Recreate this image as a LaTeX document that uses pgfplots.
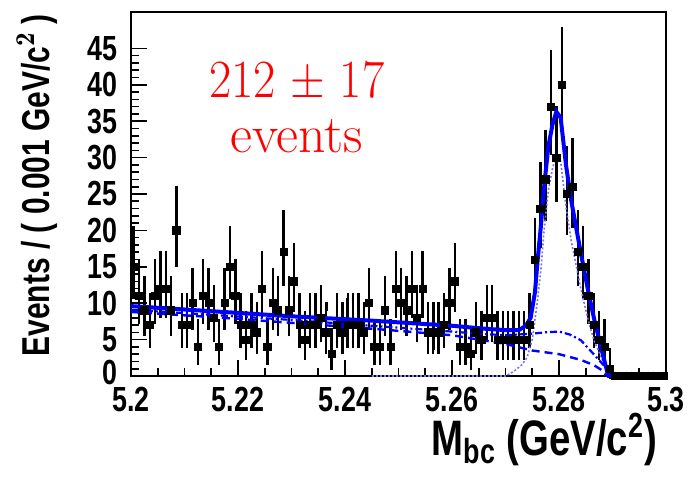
\documentclass[border=0pt]{standalone}
\usepackage{fontspec}
\usepackage{graphicx}
\usepackage{pgfplots}
\usepackage{pgfplotstable}
\pgfplotsset{compat=1.18}
\newfontfamily\hb{Liberation Sans}[FakeStretch=0.77]
\definecolor{fitblue}{RGB}{0,0,255}

\pgfplotstableread{
x y ep em
5.2005 15 4.95 3.82
5.2015 11 4.41 3.26
5.2025 9 4.11 2.94
5.2035 7 3.77 2.58
5.2045 11 4.41 3.26
5.2055 12 4.55 3.41
5.2065 12 4.55 3.41
5.2075 9 4.11 2.94
5.2085 20 5.53 4.42
5.2095 7 3.77 2.58
5.2105 7 3.77 2.58
5.2115 10 4.26 3.11
5.2125 4 3.16 1.91
5.2135 11 4.41 3.26
5.2145 10 4.26 3.11
5.2155 8 3.95 2.77
5.2165 4 3.16 1.91
5.2175 10 4.26 3.11
5.2185 15 4.95 3.82
5.2195 11 4.41 3.26
5.2205 7 3.77 2.58
5.2215 5 3.38 2.16
5.2225 7 3.77 2.58
5.2235 6 3.58 2.38
5.2245 12 4.55 3.41
5.2255 4 3.16 1.91
5.2265 10 4.26 3.11
5.2275 9 4.11 2.94
5.2285 17 5.20 4.07
5.2295 9 4.11 2.94
5.2305 13 4.69 3.55
5.2315 7 3.77 2.58
5.2325 5 3.38 2.16
5.2335 7 3.77 2.58
5.2345 7 3.77 2.58
5.2355 8 3.95 2.77
5.2365 6 3.58 2.38
5.2375 3 2.92 1.63
5.2385 7 3.77 2.58
5.2395 6 3.58 2.38
5.2405 7 3.77 2.58
5.2415 7 3.77 2.58
5.2425 7 3.77 2.58
5.2435 6 3.58 2.38
5.2445 10 4.26 3.11
5.2455 4 3.16 1.91
5.2465 4 3.16 1.91
5.2475 9 4.11 2.94
5.2485 4 3.16 1.91
5.2495 12 4.55 3.41
5.2505 10 4.26 3.11
5.2515 9 4.11 2.94
5.2525 12 4.55 3.41
5.2535 8 3.95 2.77
5.2545 12 4.55 3.41
5.2555 6 3.58 2.38
5.2565 6 3.58 2.38
5.2575 6 3.58 2.38
5.2585 7 3.77 2.58
5.2595 10 4.26 3.11
5.2605 13 4.69 3.55
5.2615 4 3.16 1.91
5.2625 4 3.16 1.91
5.2635 3 2.92 1.63
5.2645 6 3.58 2.38
5.2655 5 3.38 2.16
5.2665 8 3.95 2.77
5.2675 8 3.95 2.77
5.2685 5 3.38 2.16
5.2695 5 3.38 2.16
5.2705 5 3.38 2.16
5.2715 5 3.38 2.16
5.2725 5 3.38 2.16
5.2735 5 3.38 2.16
5.2745 7 3.77 2.58
5.2755 16 5.08 3.95
5.2765 23 5.84 4.76
5.2775 27 6.22 5.17
5.2785 37 7.13 6.06
5.2795 30 6.51 5.45
5.2805 40 7.37 6.30
5.2815 25 6.03 4.97
5.2825 26 6.13 5.07
5.2835 17 5.20 4.07
5.2845 15 4.95 3.82
5.2855 11 4.41 3.26
5.2865 7 3.77 2.58
5.2875 5 3.38 2.16
5.2885 4 3.16 1.91
5.2895 1 2.30 0.83
5.2905 0 0 0
5.2915 0 0 0
5.2925 0 0 0
5.2935 0 0 0
5.2945 0 0 0
5.2955 0 0 0
5.2965 0 0 0
5.2975 0 0 0
5.2985 0 0 0
5.2995 0 0 0
}\datatable

\pgfplotstableread{
x y
5.2000 9.6
5.2150 8.9
5.2300 8.2
5.2450 7.6
5.2600 6.9
5.2660 6.5
5.2700 6.3
5.2725 6.3
5.2738 6.9
5.2747 8.0
5.2755 11.5
5.2760 15.9
5.2766 20.5
5.2772 25.9
5.2780 31.5
5.2788 34.6
5.2795 36.3
5.2803 35.5
5.2813 29.0
5.2823 24.0
5.2833 20.0
5.2841 16.8
5.2855 11.5
5.2866 7.7
5.2880 3.5
5.2890 0.6
5.2893 0
5.3000 0
}\totaltable

\pgfplotstableread{
x y
5.2000 8.8
5.2150 8.1
5.2300 7.3
5.2450 6.5
5.2600 5.6
5.2650 5.0
5.2700 4.4
5.2750 3.5
5.2800 3.0
5.2841 2.2
5.2865 1.5
5.2880 0.8
5.2890 0
}\bkgtable

\pgfplotstableread{
x y
5.2000 9.1
5.2150 8.4
5.2300 7.7
5.2450 6.9
5.2600 6.1
5.2650 5.8
5.2700 5.6
5.2748 5.8
5.2775 6.0
5.2800 6.1
5.2820 5.7
5.2841 4.9
5.2866 2.9
5.2888 1.1
5.2893 0
}\peakbkgtable

\pgfplotstableread{
x y
5.2450 0
5.2700 0
5.2715 0.6
5.2730 1.5
5.2740 2.5
5.2750 5.0
5.2760 10.5
5.2766 14.5
5.2772 19.9
5.2780 25.5
5.2788 28.6
5.2795 30.2
5.2803 29.5
5.2813 23.3
5.2823 18.5
5.2841 11.9
5.2855 7.5
5.2866 4.8
5.2880 2.4
5.2893 0
}\sigtable

\begin{document}
\begin{tikzpicture}
\begin{axis}[
  width=267.5bp, height=182bp, scale only axis,
  xmin=5.2, xmax=5.3, ymin=0, ymax=50,
  clip=false,
  axis line style={line width=1bp, black},
  xtick pos=lower, ytick pos=left,
  tick align=inside,
  xtick={5.2,5.22,5.24,5.26,5.28,5.3},
  xticklabels={5.2,5.22,5.24,5.26,5.28,5.3},
  ytick={0,5,10,15,20,25,30,35,40,45},
  yticklabels={\raisebox{3.5bp}{0},5,10,15,20,25,30,35,40,45},
  minor x tick num=3,
  minor y tick num=4,
  major tick length=8bp,
  minor tick length=4bp,
  every tick/.style={black, line width=0.8bp},
  tick label style={font=\hb\bfseries\fontsize{17.5}{17.5}\selectfont},
  xticklabel style={inner sep=0pt, yshift=-5.3bp},
  yticklabel style={inner sep=0pt, xshift=-6.8bp},
]
\addplot[black, only marks, mark=square*, mark size=1.8bp,
  error bars/.cd, y dir=both, y explicit,
  error bar style={line width=1.2bp, black},
  error mark options={line width=1.2bp, mark size=2.2bp, black}]
  table[x=x, y=y, y error plus=ep, y error minus=em] {\datatable};

\addplot[fitblue!55, line width=0.8bp, dash pattern=on 1bp off 1bp] table[x=x,y=y] {\sigtable};
\addplot[fitblue, line width=1.2bp, dash pattern=on 4bp off 2.5bp] table[x=x,y=y] {\bkgtable};
\addplot[fitblue, line width=1.1bp, dash pattern=on 3.5bp off 1.5bp on 1bp off 1.5bp] table[x=x,y=y] {\peakbkgtable};
\addplot[fitblue, line width=2bp] table[x=x,y=y] {\totaltable};

\node[red, anchor=base, font=\fontsize{27}{27}\selectfont] at (rel axis cs:0.31,0.764) {\scalebox{0.9}[1]{212 $\pm$ 17}};
\node[red, anchor=base, font=\fontsize{27}{27}\selectfont] at (rel axis cs:0.31,0.615) {events};

\node[rotate=90, anchor=east, font=\hb\bfseries\fontsize{19.5}{19.5}\selectfont] at (rel axis cs:-0.1757,1.0137) {Events / ( 0.001 GeV/c$^{\mathbf{2}}$ )};
\node[anchor=base east, font=\hb\bfseries\fontsize{25}{25}\selectfont] at (rel axis cs:0.9963,-0.2185) {M\textsubscript{bc} (GeV/c\textsuperscript{2})};

\coordinate (bl) at (rel axis cs:-0.2449,-0.2802);
\coordinate (tr) at (rel axis cs:1.0523,1.03297);
\end{axis}
\pgfresetboundingbox
\path[use as bounding box] (bl) rectangle (tr);
\end{tikzpicture}
\end{document}
